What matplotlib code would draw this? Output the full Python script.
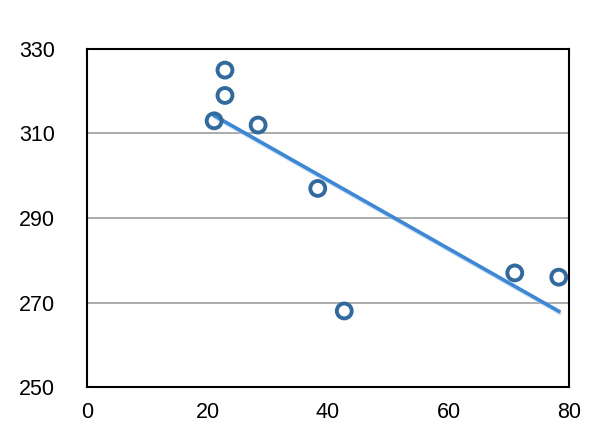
import numpy as np
import matplotlib
matplotlib.use("Agg")
import matplotlib.pyplot as plt
import matplotlib.patheffects as pe

plt.rcParams['font.family'] = ['Liberation Sans', 'DejaVu Sans']

# Data
x_vals = [21.1, 22.9, 22.9, 28.4, 38.3, 42.7, 71.0, 78.3]
y_vals = [313, 325, 319, 312, 297, 268, 277, 276]
x_ticks = [0, 20, 40, 60, 80]
y_ticks = [250, 270, 290, 310, 330]

fig = plt.figure(figsize=(6.14, 4.47), dpi=100)
ax = fig.add_axes([0.1417, 0.1342, 0.785, 0.7562])

# Linear trend line
slope, intercept = np.polyfit(x_vals, y_vals, 1)
tx = np.array([min(x_vals), max(x_vals)])
ax.plot(tx, slope * tx + intercept, color="#3d87d4", lw=2.6, zorder=3,
        path_effects=[pe.SimpleLineShadow(offset=(0.6, -1.3), shadow_color="#a9cbee", alpha=0.6),
                      pe.Normal()])

ax.scatter(x_vals, y_vals, s=115, facecolors="none", edgecolors="#336a9e",
           linewidths=2.8, zorder=4, clip_on=False)

ax.set_xlim(0, 80)
ax.set_ylim(250, 330)
ax.set_xticks(x_ticks)
ax.set_yticks(y_ticks)
ax.tick_params(length=0, labelsize=15.5)
ax.tick_params(axis="x", pad=11)
ax.tick_params(axis="y", pad=23)
ax.grid(axis="y", color="#a6a6a6", lw=1.3)
ax.set_axisbelow(True)
for s in ax.spines.values():
    s.set_linewidth(1.5)

fig.savefig("out.png", dpi=100)
